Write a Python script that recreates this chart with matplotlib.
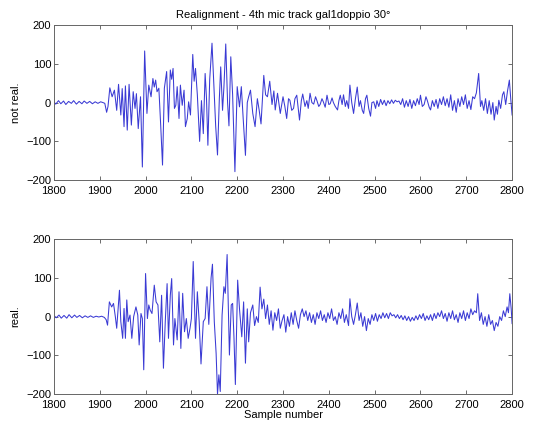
import matplotlib
matplotlib.use("Agg")
import matplotlib.pyplot as plt

plt.rcParams["font.family"] = ["Liberation Sans", "DejaVu Sans"]
plt.rcParams["font.size"] = 8

# sample numbers / amplitudes, top trace (not realigned)
top_n = [1800, 1804, 1810, 1815, 1821, 1826, 1832, 1838, 1843, 1849, 1855, 1861, 1866, 1872,
         1878, 1884, 1890, 1896, 1902, 1907, 1911, 1915, 1918,
         1922, 1927, 1932, 1937, 1941, 1946, 1949, 1953, 1956, 1960, 1964, 1969, 1973, 1977,
         1980, 1984, 1989, 1993, 1998, 2003, 2007, 2012, 2016, 2019, 2022, 2025, 2029, 2033,
         2037, 2041, 2046, 2050, 2054, 2057, 2060, 2063, 2066, 2069, 2073, 2076, 2080, 2084,
         2087, 2091, 2094, 2098, 2103, 2106, 2109, 2113, 2118, 2122, 2126, 2130, 2133, 2136,
         2140, 2145, 2150, 2153, 2157, 2161, 2164, 2168, 2171, 2175, 2179, 2182, 2186, 2190,
         2195, 2200, 2205, 2209, 2213, 2218, 2222, 2225, 2229, 2234, 2239, 2244, 2248, 2252,
         2258, 2262, 2266, 2271, 2276, 2280, 2283, 2288, 2294, 2300, 2304, 2308, 2312, 2315,
         2319, 2323, 2326, 2330, 2336, 2340, 2343, 2348, 2352, 2355, 2359, 2363, 2367, 2371,
         2374, 2378, 2381, 2385, 2388, 2392, 2396, 2400, 2403, 2407, 2410, 2414, 2419, 2422,
         2425, 2429, 2432, 2436, 2439, 2443, 2446, 2450, 2454, 2458, 2462, 2466, 2469, 2473,
         2476, 2480, 2483, 2487, 2491, 2494, 2498, 2502, 2505, 2509, 2513, 2517, 2521, 2525,
         2529, 2533, 2537, 2541, 2545, 2549, 2553, 2557, 2561, 2565, 2569, 2573, 2577, 2581,
         2585, 2589, 2593, 2597, 2600, 2604, 2608, 2612, 2615, 2619, 2622, 2626, 2630, 2634,
         2638, 2642, 2646, 2650, 2654, 2658, 2662, 2666, 2670, 2674, 2678, 2682, 2686, 2690,
         2694, 2698, 2702, 2706, 2710, 2714, 2718, 2722, 2727, 2731, 2734, 2738, 2742, 2746,
         2750, 2754, 2758, 2761, 2765, 2768, 2771, 2775, 2779, 2782, 2786, 2790, 2794, 2797,
         2800]
top_v = [2, -4, 5, -3, 4, -5, 3, -2, 5, -4, 3, -3, 4, -2,
         3, -3, 2, -2, 2, 0, -2, -25, -10,
         38, 15, 32, -20, 47, -32, 36, -62, 43, -71, 47, -58, 28, -15,
         23, -67, 15, -166, 133, -28, 45, 15, 62, 40, 58, 28, 37, -58,
         -161, 37, 80, -50, 84, 60, 88, -15, -7, 41, -41, 45, -7, 32,
         -62, -41, 2, -32, 124, 55, 88, 20, -100, 5, -80, 75, 10, -110,
         60, 153, 20, -60, -135, 10, 92, -20, 40, 151, 0, -60, 118, 20,
         -178, 41, -11, 41, -40, -136, 0, 15, 32, -28, -62, 10, -20, -55,
         70, 20, 15, 55, -5, 30, -19, 24, -28, 15, -10, -41, 10, 6,
         -20, -15, 10, 19, -45, 5, 22, -10, 5, -15, 24, 0, -4, 15,
         5, -10, -5, 10, 2, -12, 19, -5, -3, 12, 0, -10, -19, 5,
         19, -5, 20, -10, 5, -15, 45, 0, -28, 10, 40, -10, 5, -20,
         -28, 10, 19, -15, -35, 0, 2, -15, 5, -10, 8, -5, 6, -8,
         5, -3, 7, -2, 6, 2, 4, -5, 10, -12, 5, -10, 8, -15,
         5, -8, 10, -5, 19, -10, -5, 15, 5, -12, -19, 5, -10, 8,
         -15, 10, -5, 15, -8, 10, -12, 20, -20, 5, -25, 10, -10, 15,
         -5, 20, -15, 5, -18, 15, 10, 25, 75, -10, 5, -20, 10, -28,
         5, -30, 0, -45, -10, -30, 6, -15, 20, 28, -5, 30, 58, 10,
         -32]

# realigned trace
bot_n = [1800, 1805, 1811, 1816, 1822, 1828, 1833, 1839, 1845, 1850, 1856, 1862, 1868, 1874,
         1880, 1886, 1892, 1898, 1904, 1910, 1914, 1917,
         1921, 1926, 1930, 1934, 1937, 1943, 1946, 1950, 1953, 1956, 1959, 1962, 1966, 1970,
         1974, 1979, 1983, 1986, 1990, 1993, 1996, 2000, 2004, 2007, 2010, 2014, 2019, 2023,
         2027, 2031, 2035, 2039, 2043, 2047, 2050, 2054, 2057, 2061, 2064, 2069, 2073, 2077,
         2081, 2085, 2089, 2093, 2097, 2100, 2104, 2109, 2113, 2117, 2121, 2126, 2130, 2134,
         2138, 2143, 2146, 2150, 2154, 2157, 2160, 2163, 2167, 2171, 2174, 2178, 2183, 2187,
         2190, 2193, 2196, 2201, 2205, 2210, 2214, 2218, 2222, 2225, 2229, 2234, 2238, 2242,
         2246, 2250, 2254, 2258, 2262, 2266, 2270, 2274, 2278, 2282, 2286, 2290, 2294, 2298,
         2302, 2306, 2310, 2314, 2318, 2322, 2326, 2330, 2334, 2338, 2342, 2346, 2350, 2354,
         2358, 2362, 2366, 2370, 2374, 2378, 2382, 2386, 2390, 2394, 2398, 2402, 2406, 2410,
         2414, 2418, 2422, 2426, 2430, 2434, 2438, 2443, 2446, 2450, 2454, 2458, 2462, 2466,
         2470, 2474, 2478, 2482, 2486, 2490, 2494, 2498, 2502, 2506, 2510, 2514, 2518, 2522,
         2526, 2530, 2534, 2538, 2542, 2546, 2550, 2554, 2558, 2562, 2566, 2570, 2574, 2578,
         2582, 2586, 2590, 2594, 2598, 2602, 2606, 2610, 2614, 2618, 2622, 2626, 2630, 2634,
         2638, 2642, 2646, 2650, 2654, 2658, 2662, 2666, 2670, 2674, 2678, 2682, 2686, 2690,
         2694, 2698, 2702, 2706, 2710, 2714, 2718, 2722, 2725, 2729, 2733, 2737, 2741, 2745,
         2749, 2753, 2757, 2761, 2765, 2769, 2773, 2777, 2781, 2785, 2789, 2792, 2795, 2798,
         2800]
bot_v = [3, -3, 4, -4, 3, -4, 5, -3, 4, -2, 3, -3, 2, -2,
         2, -2, 1, -1, 1, -2, -8, -22,
         38, 25, 34, 0, -30, 68, -13, -56, 21, -56, 43, -13, 4, -56,
         0, 25, 4, -73, 8, -5, -137, 111, -5, 30, 17, 8, 81, 38,
         30, -65, 55, -133, -13, 85, -56, 55, 98, -73, -5, -60, 64, -82,
         60, -39, -5, -56, -30, -5, 142, -56, 64, -13, -122, -13, -5, 77,
         -20, 100, 135, -13, -95, -200, -150, -193, 4, 77, 60, 160, -99, 30,
         34, -56, -175, 94, 20, -52, 38, -120, 20, -65, 10, 30, -23, 0,
         -15, 76, 20, 45, -5, 30, -20, 15, -35, 10, -10, 20, -30, -10,
         5, -40, 0, -25, 10, -20, 15, -10, -30, 5, 20, 0, 15, -10,
         10, -15, 5, -20, 10, -5, 15, -10, 5, -15, 10, -5, 20, -10,
         0, -20, 10, -5, 20, -15, 5, -23, 46, 0, -20, 5, 35, -10,
         10, -25, 0, -36, -5, -20, 5, -10, 8, -12, 5, -5, 10, -3,
         8, -5, 10, 2, 5, -3, 5, -5, 3, -8, 2, -10, 0, -12,
         -2, -10, 2, -8, 5, -5, 8, -10, 2, -8, 5, -10, 8, -5,
         10, 0, 15, -5, 8, -12, 10, -5, 15, -8, 5, -15, 10, -5,
         15, -10, 10, -5, 20, 5, 15, 10, 59, -10, 10, -20, 0, -25,
         5, -20, -10, -36, -15, -25, 0, -10, 15, 0, 25, 10, 59, 20,
         -18]

x_ticks = [1800, 1900, 2000, 2100, 2200, 2300, 2400, 2500, 2600, 2700, 2800]
y_ticks = [-200, -100, 0, 100, 200]

fig = plt.figure(figsize=(5.34, 4.23), dpi=100)
ax1 = fig.add_axes([0.101, 0.574, 0.858, 0.367])
ax2 = fig.add_axes([0.101, 0.068, 0.858, 0.367])

for ax, n, v, lab in [(ax1, top_n, top_v, "not real."), (ax2, bot_n, bot_v, "real.")]:
    ax.plot(n, v, color="#3a3ad4", lw=0.75)
    ax.set_xlim(1800, 2800)
    ax.set_ylim(-200, 200)
    ax.set_xticks(x_ticks)
    ax.set_yticks(y_ticks)
    ax.tick_params(direction="in", length=3, width=0.6, top=True, right=True,
                   colors="#555555", labelcolor="black", labelsize=8, pad=2)
    ax.tick_params(axis="x", pad=4)
    for s in ax.spines.values():
        s.set_color("#666666")
        s.set_linewidth(0.7)
    ax.set_ylabel(lab, fontsize=8, labelpad=4)

ax1.set_title("Realignment - 4th mic track gal1doppio 30°", fontsize=8, pad=5)
ax2.set_xlabel("Sample number", fontsize=8, labelpad=0)

fig.savefig("out.png", dpi=100)
